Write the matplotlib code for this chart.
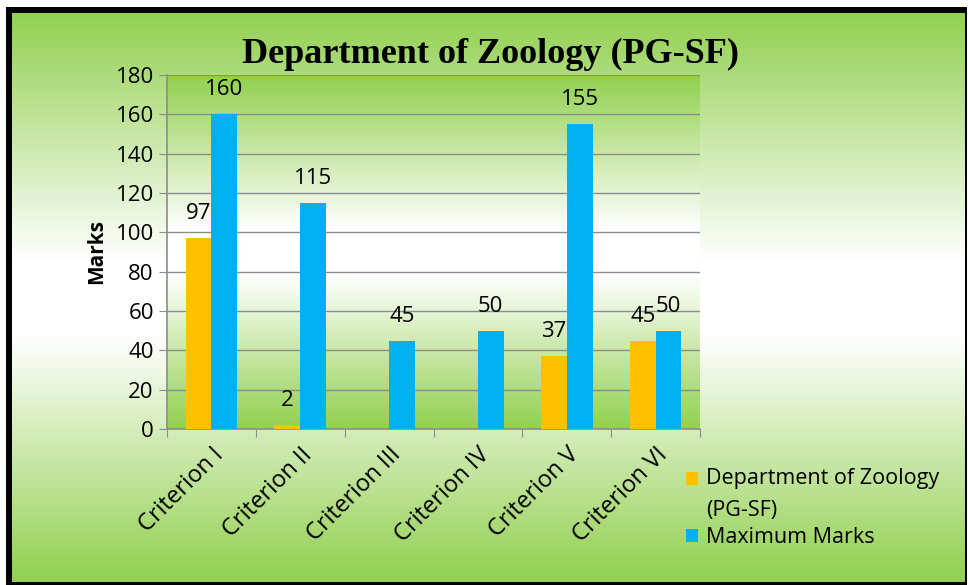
import matplotlib.pyplot as plt
import numpy as np

criteria = ["Criterion I", "Criterion II", "Criterion III", "Criterion IV", "Criterion V", "Criterion VI"]
dept_marks = [97, 2, 0, 0, 37, 45]
max_marks = [160, 115, 45, 50, 155, 50]
series_names = ["Department of Zoology\n(PG-SF)", "Maximum Marks"]

GREEN = np.array([146, 208, 80]) / 255.0
ORANGE = "#FFC000"
BLUE = "#00B0F0"
W, H = 968, 585


def gradient(n=256):
    t = np.linspace(0, 1, n)
    w = 1 - np.abs(2 * t - 1)  # 0 at ends, 1 in middle
    w = np.clip(w * 1.15, 0, 1)
    img = GREEN[None, :] * (1 - w[:, None]) + w[:, None]
    return img[:, None, :]


def main():
    plt.rcParams['font.family'] = ['Open Sans', 'DejaVu Sans']
    fig = plt.figure(figsize=(W / 100, H / 100), dpi=100, facecolor="white")

    # black frame
    frame = fig.add_axes([6 / W, 0, (967 - 6) / W, (585 - 7) / H], zorder=-3)
    frame.set_facecolor("black")
    frame.set_xticks([])
    frame.set_yticks([])
    for s in frame.spines.values():
        s.set_visible(False)

    # gradient background
    bg = fig.add_axes([12 / W, 3 / H, (965 - 12) / W, (582 - 13) / H], zorder=-2)
    bg.imshow(gradient(), aspect="auto", extent=[0, 1, 0, 1], interpolation="bilinear")
    bg.axis("off")

    ax = fig.add_axes([167 / W, (585 - 429) / H, (700 - 167) / W, (429 - 75) / H])
    ax.set_facecolor("none")
    ax.imshow(gradient(), aspect="auto", extent=[0, 1, 0, 1], transform=ax.transAxes,
              interpolation="bilinear", zorder=0)

    x = np.arange(len(criteria))
    bw = 0.29
    b1 = ax.bar(x - bw / 2, dept_marks, bw, color=ORANGE, label=series_names[0], zorder=3)
    b2 = ax.bar(x + bw / 2, max_marks, bw, color=BLUE, label=series_names[1], zorder=3)

    for bars, vals in ((b1, dept_marks), (b2, max_marks)):
        for b, v in zip(bars, vals):
            if v == 0:
                continue
            ax.annotate(str(v), (b.get_x() + b.get_width() / 2, v), xytext=(0, 14),
                        textcoords="offset pixels", ha="center", va="bottom",
                        fontsize=16, zorder=4)

    ax.set_xlim(-0.5, len(criteria) - 0.5)
    ax.set_ylim(0, 180)
    ax.set_yticks(range(0, 181, 20))
    ax.grid(axis="y", color="#8c8c8c", linewidth=1, zorder=1)
    ax.set_axisbelow(False)
    ax.set_xticks(np.arange(-0.5, len(criteria)), minor=False)
    ax.set_xticklabels([""] * (len(criteria) + 1))
    ax.set_xticks(x, minor=True)
    ax.set_xticklabels(criteria, minor=True, rotation=45, ha="right", va="top",
                       rotation_mode="anchor", fontsize=17)
    ax.tick_params(axis="x", which="major", length=6, color="#8c8c8c", direction="out")
    ax.tick_params(axis="x", which="minor", length=0, pad=10)
    ax.tick_params(axis="y", length=6, color="#8c8c8c", labelsize=16)
    for side in ("top", "right"):
        ax.spines[side].set_visible(False)
    for side in ("left", "bottom"):
        ax.spines[side].set_color("#8c8c8c")
        ax.spines[side].set_linewidth(1.2)
    ax.set_ylabel("Marks", fontsize=15, fontweight="bold", labelpad=6)

    fig.text(490 / W, 1 - 54 / H, "Department of Zoology (PG-SF)", ha="center", va="center",
             fontsize=26, fontweight="bold", family="Liberation Serif")

    leg = fig.legend(handles=[b1, b2], loc="upper left", bbox_to_anchor=(667 / W, 1 - 449 / H),
                     frameon=False, fontsize=15.5, handlelength=0.55, handleheight=0.55,
                     handletextpad=0.35, labelspacing=0.3)
    for t in leg.get_texts():
        t.set_linespacing(1.65)
    # put the first square next to the first text line, like the original
    h0 = leg.legend_handles[0]
    h0.set_y(h0.get_y() + 12)

    fig.savefig("out.png", dpi=100)


if __name__ == "__main__":
    main()
